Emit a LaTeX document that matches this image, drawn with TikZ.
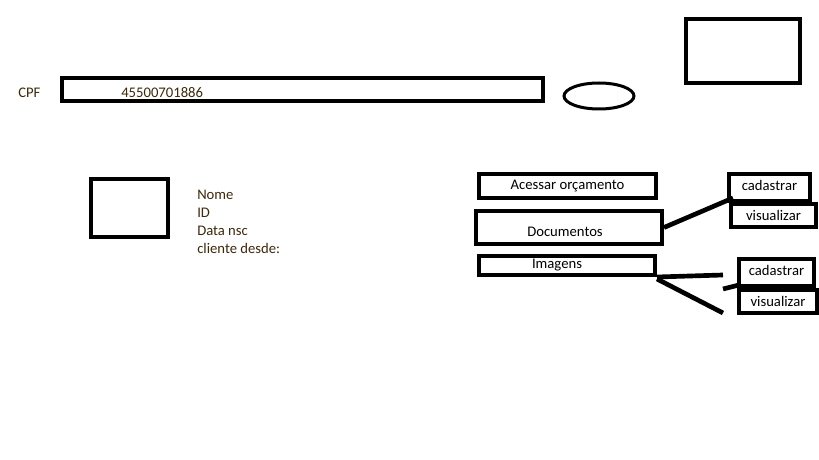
\documentclass[tikz,border=0pt]{standalone}
\usepackage{fontspec}
\setmainfont{Carlito}
\usetikzlibrary{shapes.geometric}
\definecolor{labelbrown}{RGB}{60,40,10}

\begin{document}
\begin{tikzpicture}[x=0.75pt,y=-0.75pt]
	\tikzstyle{box} = [rectangle, draw=black, line width=3pt, inner sep=0pt, font=\fontsize{11}{13.5}\selectfont];
	\tikzstyle{fieldtext} = [inner sep=0pt, text=labelbrown, font=\fontsize{11}{13.5}\selectfont];
	\tikzstyle{menutext} = [inner sep=0pt, font=\fontsize{11}{13.5}\selectfont];
	\tikzstyle{link} = [line width=3.5pt];
	\useasboundingbox (0,0) rectangle (819,460);
	% cabecalho
	\node (cpflabel) [fieldtext, anchor=base west] at (18,97.5) {CPF};
	\node (cpfbox) [box, minimum width=360.75pt, minimum height=17.25pt] at (302.5,89.5) {};
	\node (cpfvalue) [fieldtext, anchor=base west] at (121,97.5) {45500701886};
	\node (search) [ellipse, draw=black, line width=2.25pt, minimum width=52.5pt, minimum height=19.5pt, inner sep=0pt] at (599,96) {};
	\node (logo) [box, minimum width=85.5pt, minimum height=48pt] at (743,51) {};
	% dados do cliente
	\node (photo) [box, minimum width=57.75pt, minimum height=43.5pt] at (129.5,208) {};
	\node (clientinfo) [fieldtext, align=left, anchor=north west] at (197,190) {Nome\\ID\\Data nsc\\cliente desde:};
	% menu
	\node (budget) [box, minimum width=132.75pt, minimum height=18pt] at (567.5,186) {Acessar orçamento};
	\node (docs) [box, minimum width=139.5pt, minimum height=24.75pt] at (569,227.5) {};
	\node (docstext) [menutext] at (565,232) {Documentos};
	\node (imgs) [box, minimum width=132pt, minimum height=14.25pt] at (567,265.5) {};
	\node (imgstext) [menutext] at (557,265) {Imagens};
	\node (docsadd) [box, minimum width=60.75pt, minimum height=20.25pt, text depth=2.5pt] at (769.5,187.5) {cadastrar};
	\node (docsview) [box, minimum width=63.75pt, minimum height=17.25pt] at (773.5,215.5) {visualizar};
	\node (imgsadd) [box, minimum width=56.25pt, minimum height=19.5pt, text depth=2.5pt] at (776.5,272.5) {cadastrar};
	\node (imgsview) [box, minimum width=58.5pt, minimum height=17.25pt] at (778,301.5) {visualizar};
	% ligacoes
	\coordinate (imgsend) at (723,275);
	\coordinate (imgsdiag) at (723,313);
	\coordinate (imgsstub) at (723,289);
	\draw [link] (docs.east) -- ([xshift=4.5pt,yshift=3.75pt]docsadd.south west);
	\draw [link] (imgs.south east) -- (imgsend);
	\draw [link] ([yshift=-1.5pt]imgs.south east) -- (imgsdiag);
	\draw [link] (imgsstub) -- ([xshift=2pt,yshift=2pt]imgsadd.south west);
\end{tikzpicture}
\end{document}
